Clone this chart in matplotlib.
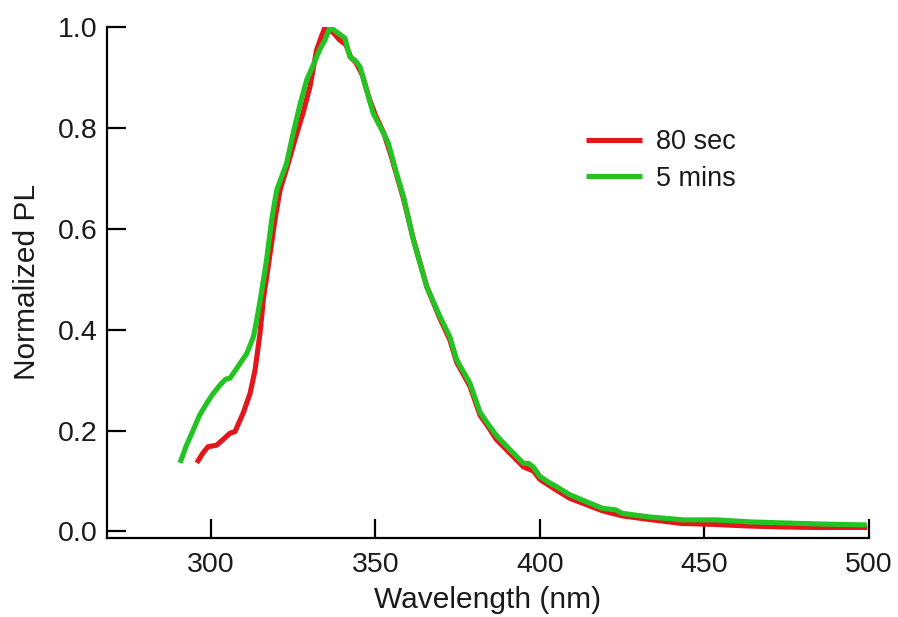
import matplotlib
matplotlib.use("Agg")
import matplotlib.pyplot as plt

plt.rcParams['font.family'] = ['Liberation Sans', 'DejaVu Sans']

# 80 sec series
wl_80s = [295.7, 297.5, 299.1, 301.7, 303.8, 305.8, 307.3, 309.8, 311.9, 313.4,
          314.9, 315.9, 317.5, 319.5, 321.0, 323.5, 325.5, 328.0, 330.1, 332.1,
          333.5, 334.7, 335.5, 337.0, 339.0, 341.0, 342.5, 344.0, 346.0, 348.0,
          350.0, 352.5, 354.5, 356.5, 358.5, 361.5, 365.6, 369.6, 372.6, 374.7,
          378.7, 381.8, 384.0, 386.8, 390.9, 395.0, 398.0, 400.0, 405.0, 409.0,
          413.0, 419.0, 425.0, 433.0, 443.0, 453.0, 463.0, 474.0, 484.0, 499.5]
pl_80s = [0.136, 0.155, 0.168, 0.171, 0.183, 0.195, 0.198, 0.235, 0.274, 0.320,
          0.393, 0.459, 0.530, 0.620, 0.677, 0.730, 0.776, 0.830, 0.882, 0.954,
          0.980, 1.000, 0.995, 0.990, 0.975, 0.965, 0.940, 0.930, 0.905, 0.860,
          0.825, 0.790, 0.750, 0.705, 0.660, 0.580, 0.485, 0.422, 0.380, 0.335,
          0.288, 0.230, 0.210, 0.182, 0.155, 0.128, 0.120, 0.103, 0.082, 0.066,
          0.056, 0.041, 0.031, 0.024, 0.016, 0.014, 0.011, 0.009, 0.008, 0.008]

# 5 mins series
wl_5m = [290.6, 292.5, 294.6, 296.5, 298.7, 300.5, 302.7, 304.5, 305.8, 307.8,
         310.9, 312.9, 313.9, 315.0, 316.9, 318.5, 320.0, 323.0, 325.0, 327.0,
         329.1, 331.1, 333.1, 334.7, 336.2, 338.2, 340.7, 342.2, 343.8, 345.3,
         347.3, 349.3, 352.4, 353.9, 356.4, 358.5, 361.5, 365.6, 369.6, 372.6,
         374.7, 378.7, 381.8, 384.0, 386.8, 390.9, 395.0, 396.5, 398.0, 400.0,
         403.0, 405.0, 409.0, 413.0, 419.0, 423.0, 425.0, 433.0, 443.6, 453.7,
         463.8, 474.0, 484.0, 499.3]
pl_5m = [0.136, 0.170, 0.201, 0.230, 0.254, 0.272, 0.290, 0.302, 0.304, 0.323,
         0.353, 0.386, 0.419, 0.460, 0.538, 0.620, 0.677, 0.730, 0.790, 0.845,
         0.895, 0.925, 0.956, 0.975, 1.000, 0.990, 0.978, 0.941, 0.934, 0.921,
         0.875, 0.829, 0.790, 0.770, 0.710, 0.664, 0.578, 0.485, 0.426, 0.386,
         0.340, 0.294, 0.236, 0.215, 0.190, 0.162, 0.135, 0.135, 0.128, 0.109,
         0.096, 0.089, 0.073, 0.062, 0.046, 0.043, 0.036, 0.029, 0.023, 0.023,
         0.019, 0.017, 0.015, 0.013]

x_ticks = [300, 350, 400, 450, 500]
y_ticks = [0.0, 0.2, 0.4, 0.6, 0.8, 1.0]
labels = ["80 sec", "5 mins"]

text_color = '#1a1a1a'

fig = plt.figure(figsize=(8.98, 6.17), dpi=100)
ax = fig.add_axes([107/898, 1 - 537.7/617, 762/898, 510.7/617])

ax.plot(wl_80s, pl_80s, color='#e3161b', lw=3.7, label=labels[0], solid_capstyle='butt')
ax.plot(wl_5m, pl_5m, color='#22c322', lw=3.7, label=labels[1], solid_capstyle='butt')

ax.set_xlim(268.4, 500)
ax.set_ylim(-0.0123, 1.0)
ax.set_xticks(x_ticks)
ax.set_yticks(y_ticks)
ax.set_yticklabels([f"{v:.1f}" for v in y_ticks])

for s in ['top', 'right']:
    ax.spines[s].set_visible(False)
for s in ['left', 'bottom']:
    ax.spines[s].set_linewidth(1.6)
    ax.spines[s].set_color('black')

ax.tick_params(axis='both', direction='in', length=13.5, width=1.6,
               labelsize=20.5, colors='black', labelcolor=text_color)
ax.tick_params(axis='y', pad=7)
ax.tick_params(axis='x', pad=10)

ax.set_xlabel("Wavelength (nm)", fontsize=21.5, labelpad=6, color=text_color)
ax.set_ylabel("Normalized PL", fontsize=21.5, labelpad=12, color=text_color)

leg = ax.legend(loc='center left', bbox_to_anchor=(586/898, 1 - 160.5/617),
                bbox_transform=fig.transFigure, frameon=False, fontsize=19.5,
                handlelength=2.05, handletextpad=0.55, labelspacing=0.4,
                borderpad=0, borderaxespad=0, labelcolor=text_color)

fig.savefig("out.png", dpi=100, facecolor='white')
